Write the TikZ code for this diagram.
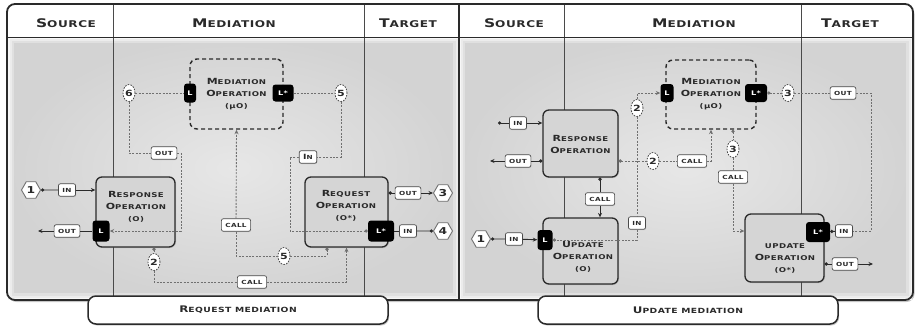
\documentclass[tikz,border=0pt]{standalone}
\usepackage{fontspec}
\usepackage{graphicx}
\usetikzlibrary{arrows.meta,shapes.geometric,shadows,calc}
\newfontfamily\wfont{DejaVu Sans}[FakeStretch=1.3,LetterSpace=6]
\newcommand\Bg[1]{\scalebox{1.28}{#1}}
\definecolor{ink}{HTML}{2A2A2A}
\definecolor{wire}{HTML}{707070}
\definecolor{rule}{HTML}{4A4A4A}
\definecolor{boxfill}{HTML}{D5D5D5}
\definecolor{bodyin}{HTML}{E7E7E7}
\definecolor{bodyout}{HTML}{D3D3D3}
\tikzset{
  arr/.tip={Stealth[length=4.5pt,width=4pt]},
  blob/.tip={Circle[length=3.2pt]},
  hdr/.style={font=\wfont\bfseries\fontsize{9.3}{10}\selectfont, text=ink},
  opbox/.style={draw=ink, line width=1.3pt, fill=boxfill, rounded corners=6pt, inner sep=0pt,
    drop shadow={opacity=.3, shadow xshift=1pt, shadow yshift=-1pt}},
  medbox/.style={draw=ink, line width=1.4pt, dash pattern=on 4pt off 3pt, rounded corners=7pt, inner sep=0pt},
  optext/.style={align=center, text=ink, font=\wfont\bfseries\fontsize{6.6}{12}\selectfont},
  badge/.style={fill=black, rounded corners=3pt, text=white, inner sep=0pt,
    font=\wfont\bfseries\fontsize{6.3}{6.5}\selectfont},
  tag/.style={draw=rule, line width=.7pt, fill=white, rounded corners=2pt, text=ink,
    font=\wfont\bfseries\fontsize{5.6}{6}\selectfont, inner xsep=4pt, inner ysep=0pt, minimum height=12.5pt,
    drop shadow={opacity=.25, shadow xshift=.6pt, shadow yshift=-.8pt}},
  numnode/.style={ellipse, draw=rule, line width=.8pt, dash pattern=on 1.6pt off 1.2pt, fill=white,
    minimum width=12pt, minimum height=17pt, inner sep=0pt, text=ink,
    font=\wfont\bfseries\fontsize{8.5}{9}\selectfont},
  hexnode/.style={regular polygon, regular polygon sides=6, draw=wire, line width=.9pt, fill=white,
    minimum size=19pt, inner sep=0pt, text=ink, font=\wfont\bfseries\fontsize{9.5}{10}\selectfont},
  ctl/.style={draw=wire, line width=.9pt, dash pattern=on 2pt off 1.4pt},
  flow/.style={draw=ink, line width=.9pt},
  caption/.style={draw=ink, line width=1.5pt, fill=white, rounded corners=8pt, text=ink,
    minimum width=300pt, minimum height=28pt, font=\wfont\bfseries\fontsize{7.1}{8}\selectfont,
    drop shadow={opacity=.4, shadow xshift=1.2pt, shadow yshift=-1.5pt}},
}
\begin{document}
\begin{tikzpicture}[x=1pt,y=-1pt]
\useasboundingbox (0,0) rectangle (916,333);

% frame and panel bodies
\fill[white, rounded corners=8pt, drop shadow={opacity=.45, shadow xshift=1.5pt, shadow yshift=-2pt}]
  (7,4) rectangle (913,300);
\foreach \xa/\xb in {8/459, 459/912}{
  \begin{scope}
    \clip (\xa,37) rectangle (\xb,299);
    \shade[inner color=bodyin, outer color=bodyout] (\xa,37) rectangle (\xb,299);
    \draw[white, line width=12pt, opacity=.3] (\xa,37) rectangle (\xb,299);
    \draw[white, line width=7pt, opacity=.4] (\xa,37) rectangle (\xb,299);
    \draw[white, line width=3pt, opacity=.6] (\xa,37) rectangle (\xb,299);
  \end{scope}
}
\draw[rule, line width=.8pt] (113,4) -- (113,300) (364,4) -- (364,300)
  (564,4) -- (564,300) (801,4) -- (801,300);
\draw[ink, line width=1pt] (7,37) -- (913,37);
\draw[ink, line width=1.2pt] (459,4) -- (459,300);
\draw[ink, line width=1.8pt, rounded corners=8pt] (7,4) rectangle (913,300);

% column headings
\node[hdr] (hsL) at (66,23.5) {\Bg{S}OURCE};
\node[hdr] (hmL) at (234,23.5) {\Bg{M}EDIATION};
\node[hdr] (htL) at (408,23.5) {\Bg{T}ARGET};
\node[hdr] (hsR) at (514,23.5) {\Bg{S}OURCE};
\node[hdr] (hmR) at (694,23.5) {\Bg{M}EDIATION};
\node[hdr] (htR) at (850,23.5) {\Bg{T}ARGET};

% ---------- request mediation ----------
\node[medbox, minimum width=93pt, minimum height=70pt] (medL) at (236.5,94) {};
\node[optext] (medLt) at (236.5,94) {\Bg{M}EDIATION\\\Bg{O}PERATION\\(μO)};
\node[opbox, minimum width=79pt, minimum height=70pt] (resp1) at (135.5,212) {};
\node[optext] (resp1t) at (136,207) {\Bg{R}ESPONSE\\\Bg{O}PERATION\\(O)};
\node[opbox, minimum width=83pt, minimum height=70pt] (req1) at (346.5,212) {};
\node[optext] (req1t) at (346,206) {\Bg{R}EQUEST\\\Bg{O}PERATION\\(O*)};

\node[badge, minimum width=12pt, minimum height=19pt] (Lm1) at (190,93) {L};
\node[badge, minimum width=21pt, minimum height=17pt] (Lsm1) at (283,93) {L*};
\node[badge, minimum width=17pt, minimum height=21pt] (Lr1) at (101,231) {L};
\node[badge, minimum width=26pt, minimum height=21pt] (Ls1) at (381,231) {L*};

\node[numnode] (n6) at (129,93) {6};
\node[numnode] (n5a) at (341,93) {5};
\node[numnode] (n2a) at (154,262) {2};
\node[numnode] (n5b) at (284,256) {5};

\node[tag] (outM) at (164,153) {OUT};
\node[tag] (inM) at (308,157) {\Bg{I}N};
\node[tag] (callB) at (236,225) {CALL};
\node[tag] (callA) at (252,282) {CALL};
\node[tag] (in1a) at (67,190) {IN};
\node[tag] (out1a) at (67,231) {OUT};
\node[tag] (outR) at (408,193) {OUT};
\node[tag] (inR) at (408,231) {IN};

\node[hexnode] (hex1a) at (31,190) {1};
\node[hexnode] (hex3) at (443,193) {3};
\node[hexnode] (hex4) at (443,231) {4};

\coordinate (cA) at (181,231);
\coordinate (cB) at (290,231);
\coordinate (oA) at (38,231);

\draw[ctl] (n6) -- (Lm1);
\draw[ctl] (n6) |- (outM);
\draw[ctl,-arr] (outM) -| (cA) -- (Lr1);
\draw[ctl] (Lsm1) -- (n5a);
\draw[ctl] (n5a) |- (inM);
\draw[ctl,-blob] (inM) -| (cB) -- (Ls1);
\draw[ctl,-arr] (callB) -- (medL.south);
\draw[ctl] (callB) |- (n5b);
\draw[ctl,-blob] (n5b) -| ([xshift=-19.5pt]req1.south);
\draw[ctl,blob-] ([xshift=18.5pt]resp1.south) -- (n2a);
\draw[ctl] (n2a) |- (callA);
\draw[ctl,-arr] (callA) -| (req1.south);

\draw[flow,blob-] (hex1a) -- (in1a);
\draw[flow,-arr] (in1a) -- (resp1.west |- in1a);
\draw[flow] (Lr1) -- (out1a);
\draw[flow,-arr] (out1a) -- (oA);
\draw[flow,blob-] (req1.east |- outR) -- (outR);
\draw[flow,-arr] (outR) -- (hex3);
\draw[flow,blob-] (hex4) -- (inR);
\draw[flow] (inR) -- (Ls1);

% ---------- update mediation ----------
\node[medbox, minimum width=90pt, minimum height=69pt] (medR) at (711,94.5) {};
\node[optext] (medRt) at (711,94) {\Bg{M}EDIATION\\\Bg{O}PERATION\\(μO)};
\node[opbox, minimum width=75pt, minimum height=67pt] (resp2) at (580.5,143.5) {};
\node[optext] (resp2t) at (580.5,144) {\Bg{R}ESPONSE\\\Bg{O}PERATION};
\node[opbox, minimum width=75pt, minimum height=66pt] (updO) at (580.5,251) {};
\node[optext] (updOt) at (583,257) {\Bg{U}PDATE\\\Bg{O}PERATION\\(O)};
\node[opbox, minimum width=79pt, minimum height=68pt] (updS) at (784.5,248) {};
\node[optext] (updSt) at (785,259) {UPDATE\\\Bg{O}PERATION\\(O*)};

\node[badge, minimum width=13pt, minimum height=18pt] (LmR) at (667,93) {L};
\node[badge, minimum width=22pt, minimum height=18pt] (LsmR) at (756,93) {L*};
\node[badge, minimum width=15pt, minimum height=20pt] (LU) at (545,240) {L};
\node[badge, minimum width=24pt, minimum height=20pt] (LsU) at (818,232) {L*};

\node[numnode] (n2b) at (637,108) {2};
\node[numnode] (n2c) at (653,161) {2};
\node[numnode] (n3a) at (788,93) {3};
\node[numnode] (n3b) at (733,149) {3};

\node[tag] (in2) at (518,123) {IN};
\node[tag] (out2) at (518,161) {OUT};
\node[tag] (call2) at (692,161) {CALL};
\node[tag] (callC) at (733,177) {CALL};
\node[tag] (callD) at (600,199) {CALL};
\node[tag] (in3) at (637,223) {IN};
\node[tag] (in4) at (514,239) {IN};
\node[tag] (outT) at (843,93) {OUT};
\node[tag] (inT) at (844,231) {IN};
\node[tag] (out3) at (845,264) {OUT};

\node[hexnode] (hex1b) at (481,239) {1};

\coordinate (s1) at (498,123);
\coordinate (e1) at (490,161);
\coordinate (e2) at (873,264);
\coordinate (cT) at (871,231);

\draw[ctl,-arr] (n2b) |- (LmR);
\draw[ctl] (n2b) -- (in3);
\draw[ctl,-blob] (in3) |- (LU.east);
\draw[ctl,blob-] (resp2.east |- n2c) -- (n2c);
\draw[ctl] (n2c) -- (call2);
\draw[ctl,-arr] (call2) -| (medR.south);
\draw[ctl,blob-] (n3b.north |- medR.south) -- (n3b);
\draw[ctl] (n3b) -- (callC);
\draw[ctl,-arr] (callC) |- (updS.west |- inT);
\draw[ctl,blob-] (LsmR) -- (n3a);
\draw[ctl] (n3a) -- (outT);
\draw[ctl] (outT) -| (cT) -- (inT);
\draw[flow,-blob] (inT) -- (LsU);

\draw[flow,blob-] (s1) -- (in2);
\draw[flow,-arr] (in2) -- (resp2.west |- in2);
\draw[flow,blob-] (resp2.west |- out2) -- (out2);
\draw[flow,-arr] (out2) -- (e1);
\draw[flow,blob-] (hex1b) -- (in4);
\draw[flow,-arr] (in4) -- (LU);
\draw[flow,blob-] (callD |- resp2.south) -- (callD);
\draw[flow,-arr] (callD) -- (callD |- updO.north);
\draw[flow,blob-] (updS.east |- out3) -- (out3);
\draw[flow,-arr] (out3) -- (e2);

% captions
\node[caption] (capL) at (238,310) {\Bg{R}EQUEST MEDIATION};
\node[caption] (capR) at (688,310) {\Bg{U}PDATE MEDIATION};
\end{tikzpicture}
\end{document}
